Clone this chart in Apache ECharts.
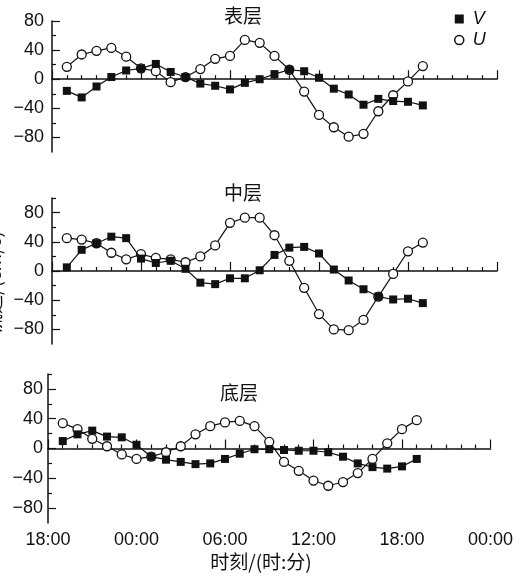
<!DOCTYPE html>
<html><head><meta charset="utf-8">
<script src="https://cdn.jsdelivr.net/npm/echarts@6/dist/echarts.min.js"></script>
<style>html,body{margin:0;padding:0;background:#fff}#c{width:516px;height:579px}</style>
</head><body><div id="c"></div>
<script>
const hours = [1,2,3,4,5,6,7,8,9,10,11,12,13,14,15,16,17,18,19,20,21,22,23,24,25];
const xTickLabels = ['18:00','00:00','06:00','12:00','18:00','00:00'];
const yTickValues = [-80,-40,0,40,80];
const panelTitles = ['表层','中层','底层'];
const surfV = [-16,-25,-10,3,12,15,21,10,3,-6,-9,-14,-5,0,7,13,11,2,-13,-21,-35,-27,-30,-31,-36];
const surfU = [17,34,39,43,31,15,11,-4,3,14,28,32,54,50,32,13,-17,-49,-66,-79,-75,-44,-22,-3,18];
const midV  = [5,29,38,47,45,17,11,14,3,-16,-18,-10,-10,1,22,32,33,24,2,-13,-25,-35,-39,-38,-44];
const midU  = [45,43,38,25,16,23,18,16,12,20,35,66,73,73,49,14,-23,-59,-80,-81,-67,-35,-4,27,39];
const botV  = [10,19,24,16,15,5,-11,-15,-18,-21,-20,-14,-7,-1,-1,-2,-3,-3,-5,-11,-20,-25,-27,-24,-14];
const botU  = [34,26,13,3,-8,-14,-11,-5,3,19,30,35,37,30,9,-18,-30,-43,-50,-45,-33,-14,7,26,38];

const chart = echarts.init(document.getElementById('c'), null, {renderer:'canvas'});
const LAT = 'Liberation Sans', CJK = 'Noto Sans CJK SC', INK = '#111';
const grids = [
  {left:52, right:19, top:21, height:131},
  {left:52, right:19, top:198, height:146},
  {left:48, right:21, top:374, height:149}
];
const yRanges = [[-100,80],[-100,100],[-100,100]];
const minorY = [[-60,-20,20,60],[-60,-20,20,60,100],[-60,-20,20,60,100]];
const labMargin = [8,8,5];
const xAxes = [], yAxes = [];
grids.forEach((g,i)=>{
  xAxes.push({type:'value', gridIndex:i, min:0, max:30, interval:6,
    axisLine:{show:true, lineStyle:{color:INK, width:1.5}},
    axisTick:{show:true, inside:true, length:9, lineStyle:{color:INK, width:1.2}},
    minorTick:{show:true, splitNumber:6, length:4, lineStyle:{color:INK, width:1.2}},
    splitLine:{show:false}, minorSplitLine:{show:false},
    axisLabel:{show:i===2, margin:8, fontSize:18, fontFamily:LAT, color:INK,
      formatter:v=>xTickLabels[Math.round(v/6)]}
  });
  yAxes.push({type:'value', gridIndex:i, position:'left', min:yRanges[i][0], max:yRanges[i][1],
    axisLine:{show:true, lineStyle:{color:INK, width:1.5}},
    axisTick:{show:true, inside:true, length:8, customValues:yTickValues, lineStyle:{color:INK, width:1.2}},
    axisLabel:{show:true, customValues:yTickValues, margin:labMargin[i], fontSize:18, fontFamily:LAT, color:INK,
      formatter:v=>String(v).replace('-','\u2212')},
    splitLine:{show:false}
  });
  yAxes.push({type:'value', gridIndex:i, position:'left', min:yRanges[i][0], max:yRanges[i][1],
    axisLine:{show:false},
    axisTick:{show:true, inside:true, length:4, customValues:minorY[i], lineStyle:{color:INK, width:1.2}},
    axisLabel:{show:false}, splitLine:{show:false}
  });
});
function pairs(vals){ return hours.map((h,k)=>[h, vals[k]]); }
const seriesDefs = [[surfU,surfV],[midU,midV],[botU,botV]];
const series = [];
seriesDefs.forEach((d,i)=>{
  series.push({name:'U', type:'line', xAxisIndex:i, yAxisIndex:2*i, data:pairs(d[0]),
    symbol:'circle', symbolSize:9, lineStyle:{color:INK, width:1.2},
    itemStyle:{color:'#fff', borderColor:INK, borderWidth:1.3}, z:2});
  series.push({name:'V', type:'line', xAxisIndex:i, yAxisIndex:2*i, data:pairs(d[1]),
    symbol:'rect', symbolSize:8, lineStyle:{color:INK, width:1.2},
    itemStyle:{color:INK}, z:3});
});
const titleY = [16,193,393], titleX = [243,243,239];
chart.setOption({
  animation:false,
  grid:grids, xAxis:xAxes, yAxis:yAxes, series:series,
  legend:{orient:'vertical', left:449, top:5, itemGap:3, itemWidth:9, itemHeight:9,
    textStyle:{fontSize:18, fontStyle:'italic', fontFamily:LAT, color:INK, lineHeight:18, padding:[0,0,0,4]},
    data:[{name:'V', icon:'rect', itemStyle:{color:INK, borderWidth:0}},
          {name:'U', icon:'circle', itemStyle:{color:'#fff', borderColor:INK, borderWidth:1.5}}]},
  graphic:[
    ...panelTitles.map((t,i)=>({type:'text', x:titleX[i], y:titleY[i],
      style:{text:t, fontSize:19, fontFamily:CJK, fill:INK, align:'center', verticalAlign:'middle'}})),
    {type:'text', x:261, y:562, style:{text:'时刻/(时:分)', fontSize:19, fontFamily:CJK, fill:INK, align:'center', verticalAlign:'middle'}},
    {type:'text', x:-6, y:282, rotation:Math.PI/2, style:{text:'流速/(cm/s)', fontSize:19, fontFamily:CJK, fill:INK, align:'center', verticalAlign:'middle'}}
  ]
});
</script></body></html>
